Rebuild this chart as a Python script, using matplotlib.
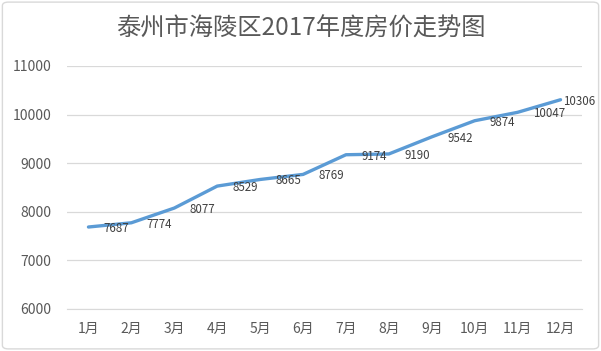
import matplotlib.pyplot as plt
from matplotlib.patches import FancyBboxPatch

plt.rcParams['font.family'] = ['Noto Sans CJK SC', 'DejaVu Sans']

# === Données ===
months = ['1月', '2月', '3月', '4月', '5月', '6月',
          '7月', '8月', '9月', '10月', '11月', '12月']
prices = [7687, 7774, 8077, 8529, 8665, 8769,
          9174, 9190, 9542, 9874, 10047, 10306]
yticks = [6000, 7000, 8000, 9000, 10000, 11000]

fig = plt.figure(figsize=(6.01, 3.51), dpi=100)
ax = fig.add_axes([67 / 601, 42 / 351, 515 / 601, 243 / 351])

x = list(range(len(months)))
ax.plot(x, prices, color='#5B9BD5', linewidth=2.4, solid_capstyle='round', zorder=3)

# étiquettes à droite des points (la dernière est repoussée pour rester dans le cadre)
for xi, v in zip(x, prices):
    dx = 2 if xi == x[-1] else 11
    ax.annotate(str(v), (xi, v), xytext=(dx, -1), textcoords='offset points',
                ha='left', va='center', fontsize=8.3, color='#404040', zorder=4,
                annotation_clip=False)

ax.set_xlim(-0.5, len(months) - 0.5)
ax.set_ylim(6000, 11000)
ax.set_xticks(x)
ax.set_xticklabels(months, fontsize=10, color='#595959')
ax.set_yticks(yticks)
ax.set_yticklabels([str(t) for t in yticks], fontsize=10, color='#595959')
ax.tick_params(length=0, pad=9)
ax.tick_params(axis='y', pad=11)
ax.grid(axis='y', color='#d9d9d9', linewidth=0.9)
ax.set_axisbelow(True)
for s in ['top', 'right', 'left']:
    ax.spines[s].set_visible(False)
ax.spines['bottom'].set_color('#d9d9d9')

fig.text(0.5, 0.918, '泰州市海陵区2017年度房价走势图', ha='center', va='center',
         fontsize=17.5, color='#595959')

# cadre arrondi
fig.patches.append(FancyBboxPatch((0.004, 0.006), 0.992, 0.988,
                                  boxstyle='round,pad=0,rounding_size=0.01',
                                  transform=fig.transFigure, fill=False,
                                  edgecolor='#d9d9d9', linewidth=1))

fig.savefig('out.png', dpi=100)
